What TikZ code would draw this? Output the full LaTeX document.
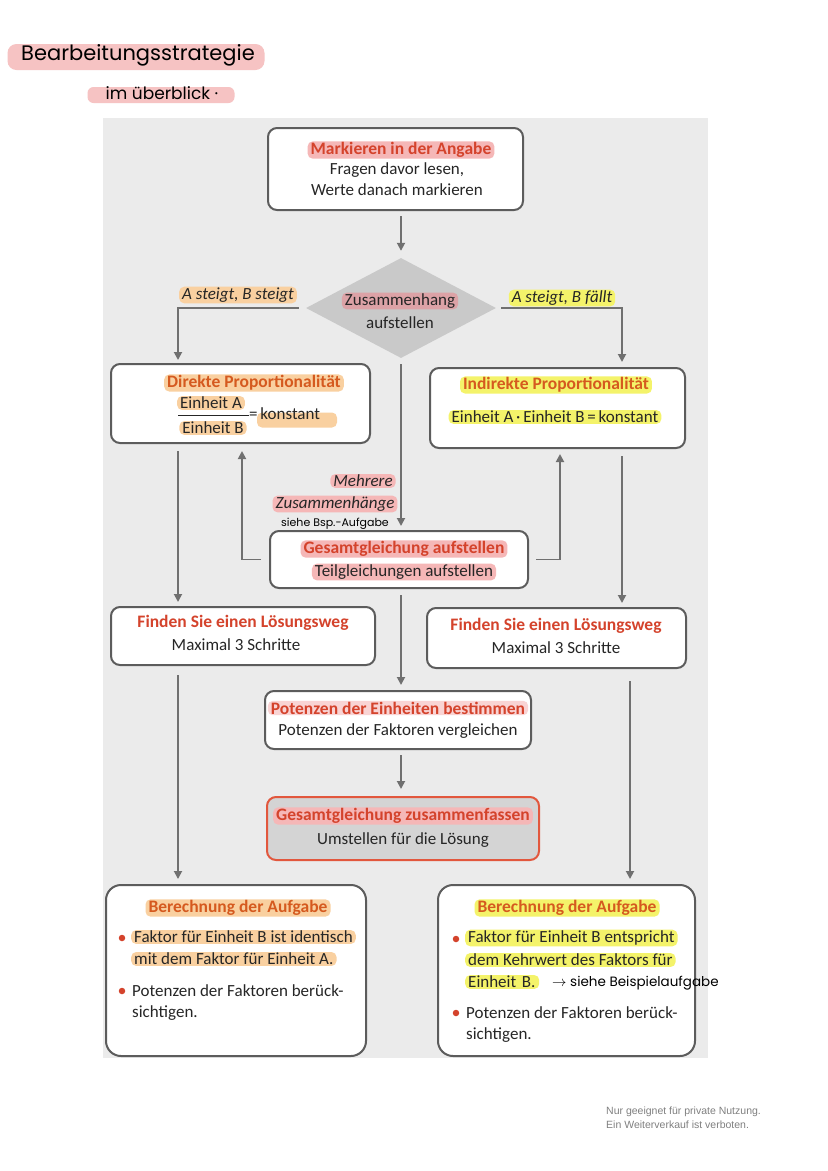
\documentclass[tikz,border=0pt]{standalone}
\usepackage{fontspec}
\setmainfont{Carlito}
\newfontfamily\hand{Poppins}
\newfontfamily\foot{Liberation Sans}
\usetikzlibrary{arrows.meta,shapes.geometric}
\definecolor{hlpink}{HTML}{F5B7B7}
\definecolor{hlpinkdk}{HTML}{DCA2A6}
\definecolor{hlorange}{HTML}{F9D0A0}
\definecolor{hlyellow}{HTML}{F4F36A}
\definecolor{redtxt}{HTML}{D4432C}
\definecolor{orangetxt}{HTML}{D55A1F}
\definecolor{boxline}{HTML}{5C5C5C}
\definecolor{arrowc}{HTML}{707070}
\definecolor{panel}{HTML}{EBEBEB}
\definecolor{diagray}{HTML}{C9C9C9}
\definecolor{zusgray}{HTML}{D4D4D4}
\definecolor{zusline}{HTML}{E2573D}
\definecolor{txt}{HTML}{262626}
\definecolor{titlehl}{HTML}{F6C3C3}
\begin{document}
\begin{tikzpicture}[x=1pt,y=-1pt,
  box/.style={draw=boxline, line width=2pt, fill=white, rounded corners=9pt, inner sep=0pt},
  bigbox/.style={box, rounded corners=15pt},
  tx/.style={font=\fontsize{17}{20}\selectfont, text=txt, inner sep=1pt},
  txi/.style={font=\fontsize{17}{20}\selectfont\itshape, text=txt, inner sep=1pt},
  hd/.style={font=\fontsize{17.5}{20}\selectfont\bfseries, text=redtxt, inner sep=1pt},
  hl/.style={fill=#1, rounded corners=5pt, inner xsep=3pt, inner ysep=1pt},
  arr/.style={draw=arrowc, line width=1.8pt, -{Triangle[length=8pt,width=8pt]}},
  dot/.style={circle, fill=redtxt, inner sep=0pt, minimum size=6.5pt},
  handtx/.style={font=\hand\fontsize{11}{12}\selectfont, text=black, inner sep=0pt},
]
\useasboundingbox (0,0) rectangle (828,1171);
\fill[white] (0,0) rectangle (828,1171);
\fill[panel] (103,118) rectangle (708,1058);

% title
\node[fill=titlehl, rounded corners=9pt, minimum width=257pt, minimum height=26pt] (th1) at (136,57) {};
\node[handtx, font=\hand\fontsize{21}{24}\selectfont] (title) at (138,55) {Bearbeitungsstrategie};
\node[fill=titlehl, rounded corners=6pt, minimum width=147pt, minimum height=16pt] (th2) at (161,95) {};
\node[handtx, font=\hand\fontsize{17}{19}\selectfont] (subtitle) at (162,93) {im überblick ·};

% top box
\node[box, minimum width=255pt, minimum height=82pt] (top) at (395.5,169) {};
\node[hd, hl=hlpink] (topa) at (401,150) {Markieren in der Angabe};
\node[tx] (topb) at (397,170) {Fragen davor lesen,};
\node[tx] (topc) at (397,190) {Werte danach markieren};

% diamond
\node[diamond, fill=diagray, minimum width=190pt, minimum height=100pt, inner sep=0pt] (dia) at (401,308) {};
\node[tx, hl=hlpinkdk] (diaa) at (400,301) {Zusammenhang};
\node[tx] (diab) at (400,323) {aufstellen};

\node[txi, hl=hlorange] (lab1) at (238,295) {A steigt, B steigt};
\node[txi, hl=hlyellow] (lab2) at (562,298) {A steigt, B fällt};

% direct box
\node[box, minimum width=259pt, minimum height=79pt] (dir) at (240.5,403.5) {};
\node[hd, text=orangetxt, hl=hlorange] (dira) at (254,383) {Direkte Proportionalität};
\node[fill=hlorange, rounded corners=5pt, minimum width=80pt, minimum height=15pt, inner sep=0pt] (kh) at (297,420) {};
\node[tx, hl=hlorange] (dirb) at (211,403) {Einheit A};
\node[tx, hl=hlorange] (dirc) at (213,428) {Einheit B};
\draw[txt, line width=0.8pt] (178,415) -- (249,415);
\node[tx, anchor=west] (dird) at (248,414) {=\,konstant};

% indirect box
\node[box, minimum width=255pt, minimum height=80pt] (ind) at (557.5,408) {};
\node[hd, text=orangetxt, hl=hlyellow] (inda) at (556,385) {Indirekte Proportionalität};
\node[tx, hl=hlyellow] (indb) at (555,417) {Einheit A\,·\,Einheit B\,=\,konstant};

% Mehrere
\node[txi, hl=hlpink] (m1) at (363,481) {Mehrere};
\node[txi, hl=hlpink] (m2) at (335,504) {Zusammenhänge};
\node[handtx] (m3) at (335,524) {siehe Bsp.-Aufgabe};

% Gesamtgleichung aufstellen
\node[box, minimum width=258pt, minimum height=57pt] (ges) at (399,559.5) {};
\node[hd, hl=hlpink] (gesa) at (404,549) {Gesamtgleichung aufstellen};
\node[tx, hl=hlpink] (gesb) at (404,572) {Teilgleichungen aufstellen};

% Finden boxes
\node[box, minimum width=264pt, minimum height=58pt] (f1) at (243,636) {};
\node[hd] (f1a) at (243,623) {Finden Sie einen Lösungsweg};
\node[tx] (f1b) at (236,645) {Maximal 3 Schritte};
\node[box, minimum width=259pt, minimum height=60pt] (f2) at (556.5,638) {};
\node[hd] (f2a) at (556,626) {Finden Sie einen Lösungsweg};
\node[tx] (f2b) at (556,648) {Maximal 3 Schritte};

% Potenzen
\node[box, minimum width=266pt, minimum height=58pt] (pot) at (398,720) {};
\node[hd, hl=hlpink!60] (pota) at (398,708) {Potenzen der Einheiten bestimmen};
\node[tx] (potb) at (398,731) {Potenzen der Faktoren vergleichen};

% Zusammenfassen
\node[box, draw=zusline, fill=zusgray, minimum width=272pt, minimum height=63pt] (zus) at (403,828.5) {};
\node[hd, hl=hlpink] (zusa) at (403,816) {Gesamtgleichung zusammenfassen};
\node[tx] (zusb) at (403,840) {Umstellen für die Lösung};

% bottom left
\node[bigbox, minimum width=260pt, minimum height=171pt] (b1) at (236,970.5) {};
\node[hd, text=orangetxt, hl=hlorange] (b1t) at (238,908) {Berechnung der Aufgabe};
\node[dot] (d1) at (122,938) {};
\node[tx, anchor=west, hl=hlorange] (b1l1) at (131,937) {Faktor für Einheit B ist identisch};
\node[tx, anchor=west, hl=hlorange] (b1l2) at (131,959) {mit dem Faktor für Einheit A.};
\node[dot] (d2) at (122,991) {};
\node[tx, anchor=west] (b1l3) at (131,991) {Potenzen der Faktoren berück-};
\node[tx, anchor=west] (b1l4) at (131,1013) {sichtigen.};

% bottom right
\node[bigbox, minimum width=257pt, minimum height=171pt] (b2) at (566.5,970.5) {};
\node[hd, text=orangetxt, hl=hlyellow] (b2t) at (567,908) {Berechnung der Aufgabe};
\node[dot] (d3) at (456,939) {};
\node[tx, anchor=west, hl=hlyellow] (b2l1) at (465,938) {Faktor für Einheit B entspricht};
\node[tx, anchor=west, hl=hlyellow] (b2l2) at (465,960) {dem Kehrwert des Faktors für};
\node[tx, anchor=west, hl=hlyellow, text width=68pt] (b2l3) at (465,982) {Einheit B.};
\node[handtx, anchor=west, font=\hand\fontsize{13.5}{15}\selectfont] (b2h) at (552,983) {$\rightarrow$ siehe Beispielaufgabe};
\node[dot] (d4) at (456,1013) {};
\node[tx, anchor=west] (b2l4) at (465,1013) {Potenzen der Faktoren berück-};
\node[tx, anchor=west] (b2l5) at (465,1035) {sichtigen.};

% footer
\node[font=\foot\fontsize{10.5}{14}\selectfont, text=gray, anchor=north west, align=left, inner sep=0pt] (foot) at (606,1107) {Nur geeignet für private Nutzung.\\Ein Weiterverkauf ist verboten.};

% connectors
\draw[arr, shorten <=5pt, shorten >=7pt] (dia.north |- top.south) -- (dia.north);
\draw[arr, shorten <=7pt, shorten >=3pt] (dia.west) -| ([xshift=-62.5pt]dir.north);
\draw[arr, shorten <=5pt, shorten >=5pt] (dia.east) -| ([xshift=64.5pt]ind.north);
\draw[arr, shorten <=6pt, shorten >=4pt] (dia.south) -- (dia.south |- ges.north);
\draw[arr, shorten <=8pt, shorten >=7pt] (ges.west) -| ([xshift=1.5pt]dir.south);
\draw[arr, shorten <=7pt, shorten >=5pt] (ges.east) -| ([xshift=2.5pt]ind.south);
\draw[arr, shorten <=7pt, shorten >=4pt] ([xshift=-62.5pt]dir.south) -- ([xshift=-62.5pt]dir.south |- f1.north);
\draw[arr, shorten <=7pt, shorten >=4pt] ([xshift=64.5pt]ind.south) -- ([xshift=64.5pt]ind.south |- f2.north);
\draw[arr, shorten <=6pt, shorten >=5pt] (dia.south |- ges.south) -- (dia.south |- pot.north);
\draw[arr, shorten <=5pt, shorten >=7pt] (dia.south |- pot.south) -- (dia.south |- zus.north);
\draw[arr, shorten <=9pt, shorten >=5pt] ([xshift=-65pt]f1.south) -- ([xshift=-65pt]f1.south |- b1.north);
\draw[arr, shorten <=12pt, shorten >=5pt] ([xshift=73.5pt]f2.south) -- ([xshift=73.5pt]f2.south |- b2.north);
\end{tikzpicture}
\end{document}
